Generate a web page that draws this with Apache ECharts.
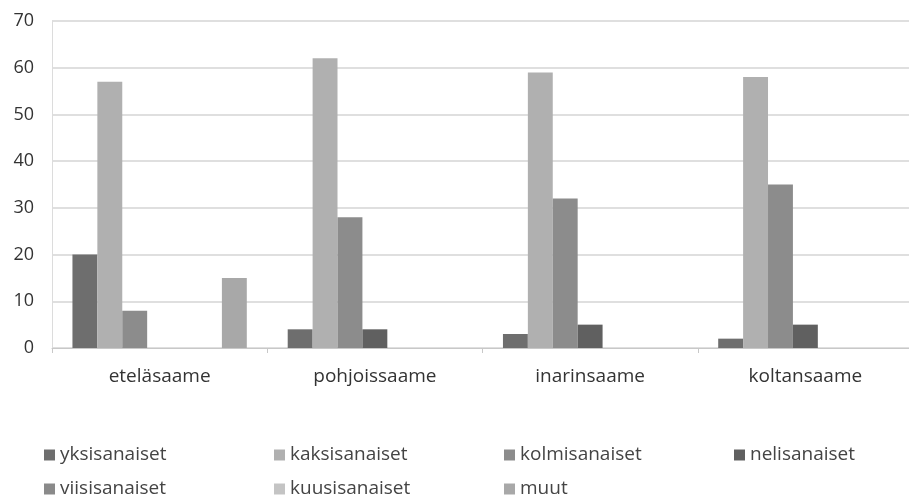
<!DOCTYPE html>
<html>
<head>
<meta charset="utf-8">
<script src="https://cdn.jsdelivr.net/npm/echarts@6/dist/echarts.min.js"></script>
<style>
  html, body { margin: 0; padding: 0; background: #fff; }
  #chart { width: 909px; height: 497px; }
</style>
</head>
<body>
<div id="chart"></div>
<script>
// kielet (categories)
const categories = ['eteläsaame', 'pohjoissaame', 'inarinsaame', 'koltansaame']

// series values, one array per word-length group
const yksisanaiset = [20, 4, 3, 2]
const kaksisanaiset = [57, 62, 59, 58]
const kolmisanaiset = [8, 28, 32, 35]
const nelisanaiset = [0, 4, 5, 5]
const viisisanaiset = [0, 0, 0, 0]
const kuusisanaiset = [0, 0, 0, 0]
const muut = [15, 0, 0, 0]

const seriesNames = ['yksisanaiset', 'kaksisanaiset', 'kolmisanaiset', 'nelisanaiset',
  'viisisanaiset', 'kuusisanaiset', 'muut']
const seriesData = [yksisanaiset, kaksisanaiset, kolmisanaiset, nelisanaiset,
  viisisanaiset, kuusisanaiset, muut]
const colors = ['#6e6e6e', '#b0b0b0', '#8c8c8c', '#606060', '#8a8a8a', '#c4c4c4', '#a8a8a8']

const chart = echarts.init(document.getElementById('chart'))
chart.setOption({
  animation: false,
  color: colors,
  textStyle: { fontFamily: 'Open Sans' },
  grid: {
    left: 52,
    width: 861,
    top: 21,
    height: 327,
    outerBoundsMode: 'none'
  },
  xAxis: {
    type: 'category',
    data: categories,
    axisLine: { lineStyle: { color: '#c8c8c8', width: 1 } },
    axisTick: { show: true, length: 5, lineStyle: { color: '#c8c8c8' } },
    axisLabel: { color: '#333', fontSize: 19, margin: 19 }
  },
  yAxis: {
    type: 'value',
    min: 0,
    max: 70,
    interval: 10,
    axisLine: { show: true, lineStyle: { color: '#dcdcdc' } },
    axisTick: { show: false },
    axisLabel: { color: '#333', fontSize: 18, margin: 18 },
    splitLine: { lineStyle: { color: '#d4d4d4', width: 1.5 } }
  },
  legend: {
    left: 39,
    top: 438,
    width: 940,
    itemWidth: 11,
    itemHeight: 11,
    itemGap: 10,
    icon: 'rect',
    data: seriesNames,
    textStyle: {
      color: '#444',
      fontSize: 19,
      width: 204,
      lineHeight: 24,
      overflow: 'truncate'
    }
  },
  series: seriesNames.map((name, i) => ({
    name: name,
    type: 'bar',
    data: seriesData[i],
    barGap: 0,
    barCategoryGap: '19%'
  }))
})
</script>
</body>
</html>
